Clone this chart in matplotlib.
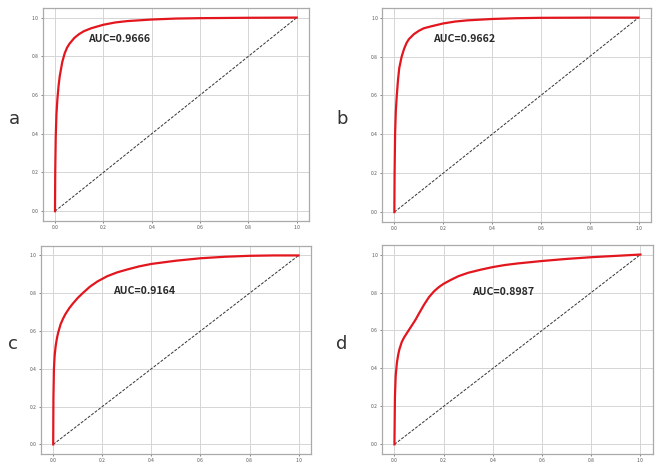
import matplotlib
matplotlib.use("Agg")
import matplotlib.pyplot as plt

plt.rcParams['font.family'] = ['Noto Sans CJK SC', 'DejaVu Sans']

# ROC points (fpr, tpr) for each panel
fpr_a = [0, 0.001, 0.003, 0.006, 0.01, 0.015, 0.02, 0.03, 0.04, 0.05, 0.06, 0.08, 0.1, 0.12,
         0.15, 0.2, 0.25, 0.3, 0.4, 0.5, 0.6, 0.8, 1.0]
tpr_a = [0, 0.2, 0.38, 0.5, 0.58, 0.65, 0.7, 0.77, 0.815, 0.845, 0.865, 0.895, 0.915, 0.93,
         0.945, 0.963, 0.975, 0.982, 0.99, 0.995, 0.997, 0.999, 1.0]

fpr_b = [0, 0.001, 0.003, 0.006, 0.01, 0.015, 0.02, 0.03, 0.04, 0.05, 0.06, 0.08, 0.1, 0.12,
         0.15, 0.2, 0.25, 0.3, 0.4, 0.5, 0.6, 0.8, 1.0]
tpr_b = [0, 0.2, 0.4, 0.52, 0.6, 0.68, 0.74, 0.8, 0.84, 0.87, 0.89, 0.915, 0.932, 0.945,
         0.955, 0.97, 0.98, 0.986, 0.993, 0.997, 0.999, 1.0, 1.0]

fpr_c = [0, 0.001, 0.003, 0.006, 0.01, 0.015, 0.02, 0.03, 0.04, 0.05, 0.065, 0.08, 0.1, 0.12,
         0.15, 0.18, 0.22, 0.26, 0.3, 0.35, 0.4, 0.5, 0.6, 0.7, 0.8, 0.9, 1.0]
tpr_c = [0, 0.25, 0.4, 0.47, 0.52, 0.56, 0.59, 0.635, 0.665, 0.69, 0.72, 0.745, 0.775, 0.8,
         0.835, 0.862, 0.89, 0.91, 0.925, 0.942, 0.955, 0.972, 0.985, 0.993, 0.998, 1.0, 1.0]

fpr_d = [0, 0.002, 0.005, 0.01, 0.015, 0.02, 0.03, 0.04, 0.05, 0.06, 0.07, 0.085, 0.1, 0.12,
         0.14, 0.16, 0.18, 0.2, 0.23, 0.26, 0.3, 0.35, 0.4, 0.45, 0.5, 0.6, 0.7, 0.8, 0.9, 1.0]
tpr_d = [0, 0.25, 0.36, 0.43, 0.47, 0.5, 0.54, 0.565, 0.585, 0.605, 0.625, 0.655, 0.69, 0.735,
         0.775, 0.805, 0.828, 0.846, 0.867, 0.886, 0.904, 0.92, 0.934, 0.945, 0.953, 0.966,
         0.977, 0.986, 0.993, 1.0]

labels = ['a', 'b', 'c', 'd']
auc_text = ['AUC=0.9666', 'AUC=0.9662', 'AUC=0.9164', 'AUC=0.8987']
auc_pos = [(0.135, 0.89), (0.16, 0.89), (0.245, 0.81), (0.315, 0.805)]
ticks = [0.0, 0.2, 0.4, 0.6, 0.8, 1.0]

curves = [(fpr_a, tpr_a), (fpr_b, tpr_b), (fpr_c, tpr_c), (fpr_d, tpr_d)]

# axes boxes in figure fraction [left, bottom, width, height]
boxes = [
    [0.065, 0.525, 0.403, 0.458],
    [0.579, 0.523, 0.407, 0.460],
    [0.062, 0.024, 0.409, 0.447],
    [0.579, 0.024, 0.410, 0.449],
]
label_xy = [(0.022, 0.745), (0.518, 0.745), (0.020, 0.26), (0.518, 0.26)]

fig = plt.figure(figsize=(6.6, 4.65), dpi=100)

for i in range(4):
    ax = fig.add_axes(boxes[i])
    fpr, tpr = curves[i]
    ax.plot([0, 1], [0, 1], color='#333333', linestyle='--', linewidth=0.7, dashes=(3, 1.5))
    ax.plot(fpr, tpr, color='#e3161e', linewidth=1.6, solid_joinstyle='round')
    ax.set_xticks(ticks)
    ax.set_yticks(ticks)
    ax.set_xticklabels(['%.1f' % t for t in ticks])
    ax.set_yticklabels(['%.1f' % t for t in ticks])
    ax.tick_params(labelsize=3.5, length=1.5, width=0.5, colors='#555555', pad=1.5)
    ax.grid(True, color='#d5d5d5', linewidth=0.7)
    for s in ax.spines.values():
        s.set_color('#aaaaaa')
        s.set_linewidth(0.9)
    ax.text(auc_pos[i][0], auc_pos[i][1], auc_text[i], fontsize=7.6, fontweight='bold',
            color='#2a2a2a', va='center', ha='left')
    fig.text(label_xy[i][0], label_xy[i][1], labels[i], fontsize=13,
             color='#333333', ha='center', va='center', family='DejaVu Sans')

fig.savefig('out.png', dpi=100, facecolor='white')
